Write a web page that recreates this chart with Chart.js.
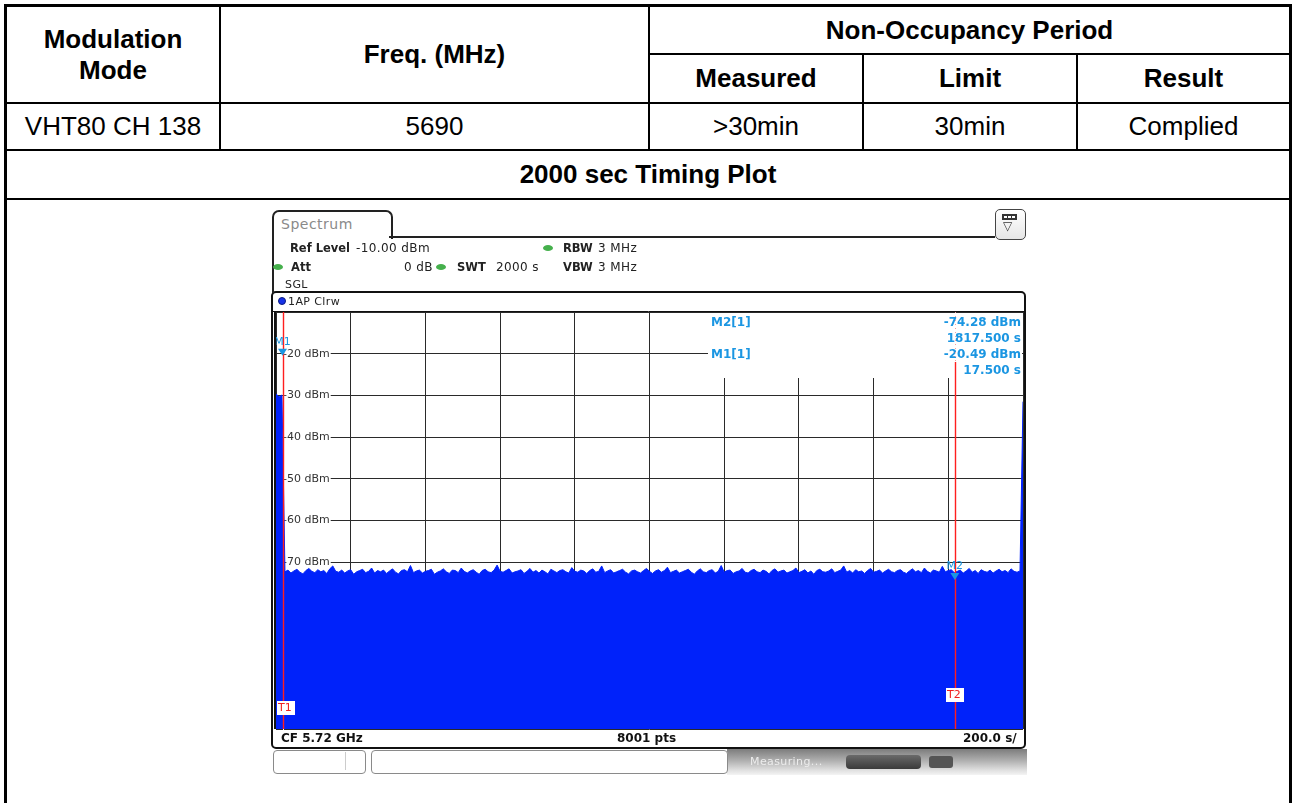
<!DOCTYPE html>
<html>
<head>
<meta charset="utf-8">
<script src="https://cdn.jsdelivr.net/npm/chart.js@4.4.1/dist/chart.umd.min.js"></script>
<style>
  body { margin: 0; width: 1292px; height: 803px; position: relative; overflow: hidden; background: #fff; font-family: "Liberation Sans", Arial, sans-serif; }
  .ln { position: absolute; background: #000; }
  .cell { position: absolute; display: flex; align-items: center; justify-content: center; text-align: center; font-size: 26px; line-height: 31px; color: #000; }
  .b { font-weight: bold; }
  .sa { position: absolute; font-family: "DejaVu Sans", sans-serif; font-size: 12px; line-height: 14px; color: #222; white-space: nowrap; letter-spacing: 0.4px; }
  .sb { font-weight: bold; font-size: 11.5px; letter-spacing: 0; }
  .dot { position: absolute; width: 10px; height: 6px; border-radius: 50%; background: #45b04c; }
  #plot { position: absolute; left: 270px; top: 205px; }
</style>
</head>
<body>

<!-- table frame -->
<div class="ln" style="left:4px;top:4px;width:3px;height:799px"></div>
<div class="ln" style="left:1289px;top:4px;width:3px;height:799px"></div>
<div class="ln" style="left:4px;top:4px;width:1288px;height:3px"></div>
<div class="ln" style="left:648px;top:53px;width:641px;height:2px"></div>
<div class="ln" style="left:7px;top:102px;width:1282px;height:2px"></div>
<div class="ln" style="left:7px;top:149px;width:1282px;height:2px"></div>
<div class="ln" style="left:7px;top:198px;width:1282px;height:2px"></div>
<div class="ln" style="left:219px;top:7px;width:2px;height:142px"></div>
<div class="ln" style="left:648px;top:7px;width:2px;height:142px"></div>
<div class="ln" style="left:862px;top:55px;width:2px;height:94px"></div>
<div class="ln" style="left:1076px;top:55px;width:2px;height:94px"></div>

<div class="cell b" style="left:7px;top:7px;width:212px;height:95px">Modulation<br>Mode</div>
<div class="cell b" style="left:221px;top:7px;width:427px;height:95px">Freq. (MHz)</div>
<div class="cell b" style="left:650px;top:7px;width:639px;height:46px">Non-Occupancy Period</div>
<div class="cell b" style="left:650px;top:55px;width:212px;height:47px">Measured</div>
<div class="cell b" style="left:864px;top:55px;width:212px;height:47px">Limit</div>
<div class="cell b" style="left:1078px;top:55px;width:211px;height:47px">Result</div>
<div class="cell" style="left:7px;top:104px;width:212px;height:45px">VHT80 CH 138</div>
<div class="cell" style="left:221px;top:104px;width:427px;height:45px">5690</div>
<div class="cell" style="left:650px;top:104px;width:212px;height:45px">&gt;30min</div>
<div class="cell" style="left:864px;top:104px;width:212px;height:45px">30min</div>
<div class="cell" style="left:1078px;top:104px;width:211px;height:45px">Complied</div>
<div class="cell b" style="left:7px;top:151px;width:1282px;height:47px">2000 sec Timing Plot</div>

<canvas id="plot" width="760" height="572"></canvas>

<!-- analyzer header -->
<div style="position:absolute;left:272px;top:210px;width:117px;height:27px;border:2px solid #222;border-bottom:none;border-radius:7px 7px 0 0;background:#fff"></div>
<div class="ln" style="left:272px;top:236px;width:2px;height:57px;background:#222"></div>
<div class="ln" style="left:389px;top:236px;width:606px;height:2px;background:#222"></div>
<div class="sa" style="left:281px;top:216px;font-size:14px;line-height:16px;color:#8a8a8a;letter-spacing:0.5px">Spectrum</div>
<div style="position:absolute;left:995px;top:209px;width:29px;height:29px;border:1.5px solid #444;border-radius:5px;background:linear-gradient(#fff,#e6e6e6)"></div>
<div style="position:absolute;left:1002px;top:214px;width:15px;height:6px;background:#333"></div>
<div style="position:absolute;left:1004px;top:216px;width:3px;height:2px;background:#fff"></div>
<div style="position:absolute;left:1008px;top:216px;width:3px;height:2px;background:#fff"></div>
<div style="position:absolute;left:1012px;top:216px;width:3px;height:2px;background:#fff"></div>
<div class="sa" style="left:1003px;top:219px;font-size:12px;color:#333;letter-spacing:0">▽</div>

<div class="sa sb" style="left:290px;top:241px">Ref Level</div>
<div class="sa" style="left:356px;top:241px">-10.00 dBm</div>
<div class="dot" style="left:543px;top:245px"></div>
<div class="sa sb" style="left:563px;top:241px">RBW</div>
<div class="sa" style="left:598px;top:241px">3 MHz</div>
<div class="dot" style="left:273px;top:264px"></div>
<div class="sa sb" style="left:291px;top:260px">Att</div>
<div class="sa" style="left:404px;top:260px">0 dB</div>
<div class="dot" style="left:436px;top:264px"></div>
<div class="sa sb" style="left:457px;top:260px">SWT</div>
<div class="sa" style="left:496px;top:260px">2000 s</div>
<div class="sa sb" style="left:563px;top:260px">VBW</div>
<div class="sa" style="left:598px;top:260px">3 MHz</div>
<div class="sa" style="left:285px;top:278px;font-size:11px">SGL</div>

<div style="position:absolute;left:278px;top:297px;width:8px;height:8px;border-radius:50%;background:#1632e8;border:1px solid #0a1a80;box-sizing:border-box"></div>
<div class="sa" style="left:288px;top:295px;font-size:11px;line-height:13px">1AP Clrw</div>

<!-- analyzer footer -->
<div class="sa sb" style="left:281px;top:731px;font-size:12px;color:#111">CF 5.72 GHz</div>
<div class="sa sb" style="left:617px;top:731px;font-size:12px;color:#111">8001 pts</div>
<div class="sa sb" style="left:963px;top:731px;font-size:12px;color:#111">200.0 s/</div>

<!-- status bar -->
<div style="position:absolute;left:727px;top:749px;width:300px;height:26px;background:linear-gradient(#7c7c7c,#b0b0b0 45%,#dedede 80%,#f4f4f4)"></div>
<div style="position:absolute;left:273px;top:750px;width:91px;height:22px;border:1px solid #8a8a8a;border-radius:4px;background:#fff"></div>
<div class="ln" style="left:345px;top:752px;width:1px;height:18px;background:#ccc"></div>
<div style="position:absolute;left:371px;top:750px;width:355px;height:22px;border:1px solid #8a8a8a;border-radius:4px;background:#fff"></div>
<div class="sa" style="left:750px;top:755px;color:#ececec;font-size:11px">Measuring...</div>
<div style="position:absolute;left:846px;top:755px;width:75px;height:14px;border-radius:4px;background:linear-gradient(#6a6a6a,#3a3a3a)"></div>
<div style="position:absolute;left:929px;top:756px;width:24px;height:12px;border-radius:3px;background:#555"></div>

<script>
const sweepTime = 2000;
const sampleStep = 8;
const levelTicks = [-20, -30, -40, -50, -60, -70];

// burst at sweep start (dBm)
const burstLevels = [-29.6, -30.4, -29.9];
// noise floor after the burst (dBm)
const noiseLevels = [
  -72.3, -71.9, -72.6, -72.1, -71.7, -72.4, -72.8, -72.0, -71.5, -72.2, -72.5, -71.8, -72.3,
  -72.0, -72.7, -71.6, -70.9, -72.2, -72.4, -71.9, -72.6, -72.1, -71.8, -72.9, -72.3, -72.0,
  -71.7, -72.5, -72.2, -71.4, -72.6, -72.0, -72.3, -71.9, -72.7, -72.1, -71.6, -72.4, -72.8,
  -72.0, -71.8, -72.3, -70.8, -72.5, -72.1, -71.9, -72.6, -72.2, -72.0, -71.7, -72.9, -72.4,
  -72.1, -71.6, -72.3, -72.7, -71.9, -72.0, -72.5, -71.4, -72.2, -72.6, -72.1, -71.8, -72.4,
  -72.9, -72.0, -71.7, -72.3, -72.5, -71.9, -70.7, -72.2, -72.4, -72.0, -71.6, -72.6, -72.3,
  -72.1, -71.8, -72.7, -72.2, -71.5, -72.4, -72.0, -72.6, -71.9, -72.3, -72.8, -71.7, -72.1,
  -72.5, -72.0, -71.8, -72.3, -72.6, -71.3, -72.2, -72.4, -71.9, -72.1, -72.7, -72.0, -71.6,
  -72.4, -72.2, -70.9, -72.5, -72.1, -71.8, -72.6, -72.3, -72.0, -71.7, -72.4, -72.8, -72.1,
  -71.9, -72.3, -72.6, -72.0, -71.5, -72.2, -72.7, -72.1, -71.8, -72.4, -72.0, -71.2, -72.5,
  -72.2, -71.9, -72.6, -72.3, -72.0, -71.7, -72.4, -72.9, -72.1, -71.6, -72.3, -72.5, -72.0,
  -71.8, -72.6, -72.2, -70.8, -72.4, -72.0, -71.9, -72.7, -72.3, -72.1, -71.5, -72.4, -72.6,
  -72.0, -71.7, -72.3, -72.5, -71.9, -72.2, -72.8, -72.0, -71.6, -72.4, -72.1, -71.9, -72.6,
  -72.3, -72.0, -71.4, -72.5, -72.2, -71.8, -72.6, -72.1, -72.9, -72.0, -71.7, -72.3, -72.4,
  -72.1, -71.6, -72.5, -72.2, -71.9, -70.9, -72.4, -72.0, -72.6, -71.8, -72.3, -72.1, -72.7,
  -72.0, -71.5, -72.4, -72.2, -71.9, -72.6, -72.1, -71.7, -72.3, -72.5, -72.0, -71.8, -72.4,
  -72.7, -72.1, -71.6, -72.3, -72.0, -72.5, -71.4, -72.2, -72.6, -71.9, -72.1, -72.4, -71.0,
  -72.3, -72.0, -71.8, -72.5, -72.2, -71.9, -72.6, -72.1, -71.5, -72.4, -72.0, -72.7, -71.8,
  -72.2, -72.4, -71.9, -72.6, -72.1, -71.7, -72.3, -72.0, -72.5, -71.6, -72.2, -72.4, -72.1
];
// last sample at sweep end
const tailLevels = [-31.5];

const markerNames = ['M1', 'M2'];
const markerTimes = [17.5, 1817.5];
const markerLevels = [-20.49, -74.28];

const lineNames = ['T1', 'T2'];
const lineTimes = [17.5, 1817.5];

const traceLevels = burstLevels.concat(noiseLevels, tailLevels);
const tracePoints = traceLevels.map((v, i) => ({ x: i * sampleStep, y: v }));

const markColor = '#1b96e2';
const traceBlue = 'rgb(0, 34, 250)';

// window frame, marker readout, display lines, markers
const specDecor = {
  id: 'specDecor',
  beforeDraw(chart) {
    const c = chart.ctx;
    c.save();
    c.strokeStyle = '#111';
    c.lineWidth = 2;
    c.beginPath();
    c.roundRect(2, 87, 753, 456, 4);
    c.stroke();
    c.restore();
  },
  afterDatasetsDraw(chart) {
    const c = chart.ctx;
    const a = chart.chartArea;
    const xs = chart.scales.x, ys = chart.scales.y;
    c.save();

    // marker readout block hides the grid
    const boxL = a.left + 432, boxB = a.top + 66;
    c.fillStyle = '#fff';
    c.fillRect(boxL, a.top + 1, a.right - boxL - 1, boxB - a.top - 1);

    c.font = 'bold 12px "DejaVu Sans"';
    c.fillStyle = markColor;
    c.textBaseline = 'middle';
    for (let k = markerNames.length - 1, row = 0; k >= 0; k--, row++) {
      const y0 = a.top + 11 + row * 32;
      c.textAlign = 'left';
      c.fillText(markerNames[k] + '[1]', boxL + 3, y0);
      c.textAlign = 'right';
      c.fillText(markerLevels[k].toFixed(2) + ' dBm', a.right - 2, y0);
      c.fillText(markerTimes[k].toFixed(3) + ' s', a.right - 2, y0 + 16);
    }

    // display lines
    c.font = '11px "DejaVu Sans"';
    lineTimes.forEach((t, i) => {
      const x = Math.round(xs.getPixelForValue(t));
      let yStart = a.top;
      if (x > boxL) {
        yStart = a.top + 50;
        c.setLineDash([1, 3]);
        c.strokeStyle = '#f5a0a0';
        c.lineWidth = 1;
        c.beginPath(); c.moveTo(x + 0.5, a.top); c.lineTo(x + 0.5, yStart); c.stroke();
        c.setLineDash([]);
      }
      c.strokeStyle = '#ff1e1e';
      c.lineWidth = 1.4;
      c.beginPath(); c.moveTo(x + 0.5, yStart); c.lineTo(x + 0.5, a.bottom); c.stroke();
      const bx = Math.max(a.left + 1, x - 9);
      const by = a.bottom - 28 - 13 * i;
      c.fillStyle = '#fff';
      c.fillRect(bx, by, 18, 14);
      c.fillStyle = '#f02020';
      c.textAlign = 'left';
      c.fillText(lineNames[i], bx + 1, by + 7.5);
    });

    // markers
    markerNames.forEach((m, i) => {
      const x = xs.getPixelForValue(markerTimes[i]);
      const y = ys.getPixelForValue(markerLevels[i]);
      c.fillStyle = markColor;
      c.beginPath();
      c.moveTo(x - 4.5, y - 7); c.lineTo(x + 4.5, y - 7); c.lineTo(x, y);
      c.closePath(); c.fill();
      c.font = '11px "DejaVu Sans"';
      c.textAlign = 'center';
      c.fillText(m, x, y - 14);
    });

    // plot frame
    c.strokeStyle = '#111';
    c.lineWidth = 2;
    c.beginPath(); c.moveTo(a.left - 1, a.top - 1); c.lineTo(a.left - 1, a.bottom); c.stroke();
    c.lineWidth = 1;
    c.beginPath(); c.moveTo(3, a.top - 0.5); c.lineTo(754, a.top - 0.5); c.stroke();
    c.restore();
  }
};

new Chart(document.getElementById('plot'), {
  type: 'line',
  data: {
    datasets: [
      {
        label: '1AP Clrw',
        data: tracePoints,
        borderColor: traceBlue,
        backgroundColor: traceBlue,
        borderWidth: 1,
        pointRadius: 0,
        fill: 'start',
        tension: 0,
      },
    ],
  },
  options: {
    responsive: false,
    animation: false,
    layout: { padding: { left: 6, top: 107, right: 7, bottom: 48 } },
    plugins: { legend: { display: false }, tooltip: { enabled: false } },
    scales: {
      x: {
        type: 'linear',
        min: 0,
        max: sweepTime,
        afterFit: s => { s.height = 0; },
        ticks: { display: false, stepSize: 200 },
        grid: { color: '#2a2a2a', lineWidth: 1, drawTicks: false },
        border: { display: false },
      },
      y: {
        min: -110,
        max: -10,
        afterFit: s => { s.width = 0; },
        ticks: {
          stepSize: 10,
          mirror: true,
          padding: 7,
          color: '#333',
          font: { family: 'DejaVu Sans', size: 11 },
          showLabelBackdrop: true,
          backdropColor: '#fff',
          backdropPadding: { left: 0, right: 1, top: 0, bottom: 0 },
          callback: v => levelTicks.includes(v) ? v + ' dBm' : '',
        },
        grid: { color: '#2a2a2a', lineWidth: 1, drawTicks: false },
        border: { display: false },
      },
    },
  },
  plugins: [specDecor],
});
</script>
</body>
</html>
